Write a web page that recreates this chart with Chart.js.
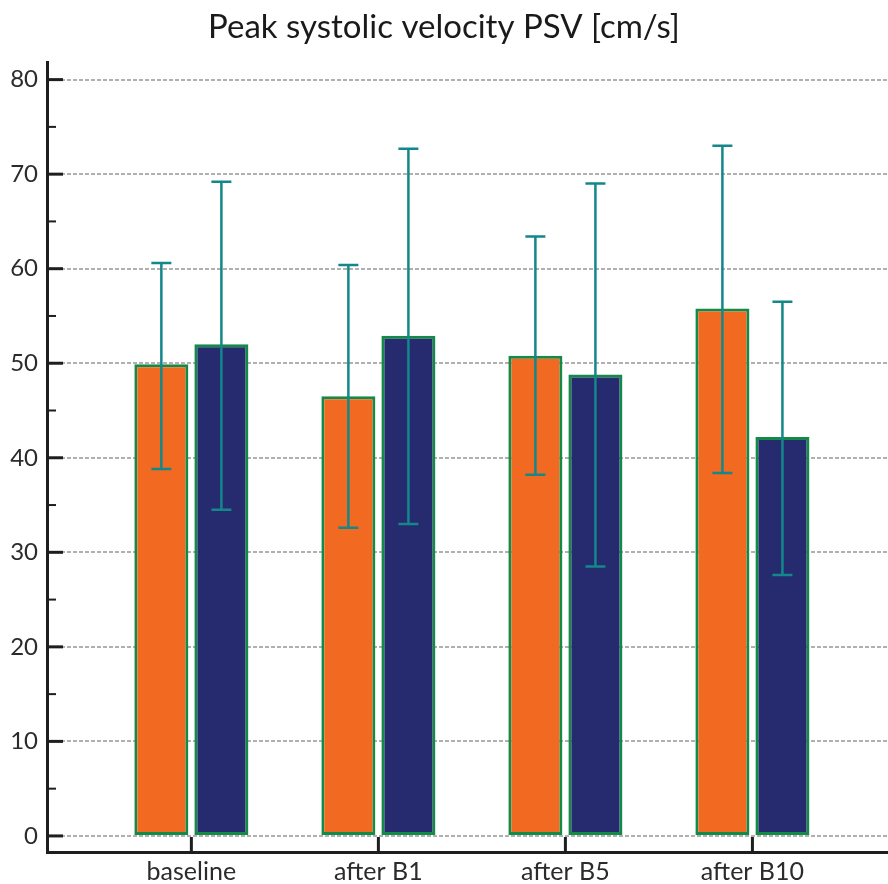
<!DOCTYPE html>
<html>
<head>
<meta charset="utf-8">
<script src="https://cdn.jsdelivr.net/npm/chart.js@4.4.1/dist/chart.umd.min.js"></script>
<style>
  html, body { margin: 0; padding: 0; background: #fff; overflow: hidden; }
  #wrap { width: 888px; height: 884px; }
</style>
</head>
<body>
<div id="wrap"><canvas id="psvChart" width="888" height="884"></canvas></div>
<script>
// chart data
const categories = ['baseline', 'after B1', 'after B5', 'after B10'];
const orangeValues = [49.9, 46.5, 50.8, 55.8];
const orangeUpper = [60.6, 60.4, 63.4, 73.0];
const orangeLower = [38.8, 32.6, 38.2, 38.4];
const navyValues = [52.0, 52.9, 48.8, 42.2];
const navyUpper = [69.2, 72.7, 69.0, 56.5];
const navyLower = [34.5, 33.0, 28.5, 27.6];
const yTickLabels = [0, 10, 20, 30, 40, 50, 60, 70, 80];
const yMinorTicks = [0, 5, 10, 15, 20, 25, 30, 35, 40, 45, 50, 55, 60, 65, 70, 75, 80];

const FONT = 'Lato, "Open Sans", sans-serif';
const AXIS_COLOR = '#1e1e1e';

// draws inward tick marks on both axes
const innerTicks = {
    id: 'innerTicks',
    afterDraw(chart) {
        const { ctx, scales: { x, y }, chartArea } = chart;
        ctx.save();
        ctx.strokeStyle = AXIS_COLOR;
        yMinorTicks.forEach(v => {
            const py = y.getPixelForValue(v);
            const major = v % 10 === 0;
            ctx.lineWidth = major ? 3 : 2;
            ctx.beginPath();
            ctx.moveTo(chartArea.left, py);
            ctx.lineTo(chartArea.left + (major ? 16 : 9), py);
            ctx.stroke();
        });
        ctx.lineWidth = 3;
        categories.forEach((c, i) => {
            const px = x.getPixelForValue(i + 1);
            ctx.beginPath();
            ctx.moveTo(px, chartArea.bottom);
            ctx.lineTo(px, chartArea.bottom - 15);
            ctx.stroke();
        });
        ctx.restore();
    }
};

// error bars from the upper / lower arrays
const errorBars = {
    id: 'errorBars',
    afterDatasetsDraw(chart) {
        const { ctx, scales: { y } } = chart;
        ctx.save();
        ctx.strokeStyle = '#13878a';
        ctx.lineWidth = 2.5;
        chart.data.datasets.forEach((ds, di) => {
            const meta = chart.getDatasetMeta(di);
            meta.data.forEach((bar, i) => {
                const top = y.getPixelForValue(ds.upper[i]);
                const bottom = y.getPixelForValue(ds.lower[i]);
                ctx.beginPath();
                ctx.moveTo(bar.x, top);
                ctx.lineTo(bar.x, bottom);
                ctx.moveTo(bar.x - 10, top);
                ctx.lineTo(bar.x + 10, top);
                ctx.moveTo(bar.x - 10, bottom);
                ctx.lineTo(bar.x + 10, bottom);
                ctx.stroke();
            });
        });
        ctx.restore();
    }
};

const ctx = document.getElementById('psvChart').getContext('2d');

new Chart(ctx, {
    type: 'bar',
    data: {
        datasets: [{
            data: orangeValues.map((v, i) => ({ x: i + 1, y: v })),
            upper: orangeUpper,
            lower: orangeLower,
            backgroundColor: '#f26a22',
            borderColor: '#138a48',
            borderWidth: 3,
            borderSkipped: false
        }, {
            data: navyValues.map((v, i) => ({ x: i + 1, y: v })),
            upper: navyUpper,
            lower: navyLower,
            backgroundColor: '#262a6e',
            borderColor: '#138a48',
            borderWidth: 3,
            borderSkipped: false
        }]
    },
    options: {
        responsive: false,
        animation: false,
        categoryPercentage: 0.642,
        barPercentage: 0.9,
        layout: { padding: 0 },
        plugins: {
            legend: { display: false },
            tooltip: { enabled: false },
            title: {
                display: true,
                text: 'Peak systolic velocity PSV [cm/s]',
                color: '#1a1a1a',
                font: { family: FONT, size: 33, weight: 'normal' },
                padding: { top: 8, bottom: 15 }
            }
        },
        scales: {
            x: {
                type: 'linear',
                offset: false,
                min: 0.228,
                max: 4.725,
                afterBuildTicks: s => { s.ticks = categories.map((c, i) => ({ value: i + 1 })); },
                afterFit: s => { s.height = 32; },
                grid: { display: false, drawTicks: false },
                border: { color: AXIS_COLOR, width: 3 },
                ticks: {
                    padding: 5,
                    color: '#2b2b2b',
                    font: { family: FONT, size: 25 },
                    maxRotation: 0,
                    autoSkip: false,
                    callback: v => categories[v - 1]
                }
            },
            y: {
                min: -1.7,
                max: 81.8,
                afterBuildTicks: s => { s.ticks = yTickLabels.map(v => ({ value: v })); },
                afterFit: s => { s.width = 47; },
                grid: {
                    drawTicks: false,
                    color: '#b0b0b0',
                    lineWidth: 2
                },
                border: { color: AXIS_COLOR, width: 3, dash: [4, 2] },
                ticks: {
                    padding: 9,
                    color: '#2b2b2b',
                    font: { family: FONT, size: 24 }
                }
            }
        }
    },
    plugins: [errorBars, innerTicks]
});
</script>
</body>
</html>
